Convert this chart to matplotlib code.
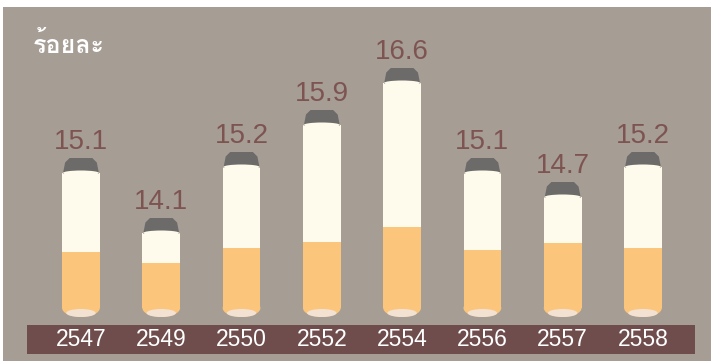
import matplotlib
matplotlib.use("Agg")
import matplotlib.pyplot as plt
from matplotlib.patches import Rectangle, Ellipse, Polygon
from matplotlib import font_manager as fm
from matplotlib.ft2font import FT2Font

# ---------------- data ----------------
years = ["2547", "2549", "2550", "2552", "2554", "2556", "2557", "2558"]
values = [15.1, 14.1, 15.2, 15.9, 16.6, 15.1, 14.7, 15.2]
value_labels = ["15.1", "14.1", "15.2", "15.9", "16.6", "15.1", "14.7", "15.2"]
filter_levels = [13.78, 13.60, 13.85, 13.95, 14.20, 13.82, 13.93, 13.85]
unit_label = "ร้อยละ"

# ---------------- fonts ----------------
names = {f.name for f in fm.fontManager.ttflist}
narrow = "Liberation Sans Narrow" if "Liberation Sans Narrow" in names else "Liberation Sans"

thai_font = None
for f in fm.fontManager.ttflist:
    try:
        cm = FT2Font(f.fname).get_charmap()
    except Exception:
        continue
    if 0x0E23 in cm and 0x0E49 in cm:
        thai_font = f.name
        break
thai_family = [thai_font, "DejaVu Sans"] if thai_font else ["DejaVu Sans"]

# ---------------- colours ----------------
BG = "#a69d95"
BAND = "#6f4d4c"
LABEL = "#7e5451"
CREAM = "#fefbec"
ORANGE = "#fcc57c"
TIP = "#f3e2d2"
CAP = "#6c6b69"

W, H = 713, 361
fig = plt.figure(figsize=(W / 100, H / 100), dpi=100, facecolor="white")
fig.patches.append(Rectangle((3 / W, 0), 708 / W, 354 / H, transform=fig.transFigure,
                             facecolor=BG, edgecolor="none", zorder=-5))

ax = fig.add_axes([27 / W, 6 / H, 668 / W, 348 / H])
ax.set_zorder(2)
ax.set_facecolor("none")
for s in ax.spines.values():
    s.set_visible(False)
ax.set_xticks([])
ax.set_yticks([])

BASE = 12.7          # value at the bottom of the cigarettes
PX = 1 / 60.0        # data units per pixel
ax.set_xlim(-0.672, 7.648)
ax.set_ylim(BASE - 38 * PX, BASE + 310 * PX)

bw = 0.47
for i, (v, fl) in enumerate(zip(values, filter_levels)):
    r = 9 * PX
    # cream body
    ax.add_patch(Rectangle((i - bw / 2, BASE + r), bw, v - BASE - r,
                           facecolor=CREAM, edgecolor="none", zorder=2))
    # orange filter
    ax.add_patch(Rectangle((i - bw / 2, BASE + r), bw, fl - BASE - r,
                           facecolor=ORANGE, edgecolor="none", zorder=3))
    # rounded filter end
    ax.add_patch(Ellipse((i, BASE + r), bw, 2 * r, facecolor=ORANGE,
                         edgecolor="none", zorder=3))
    ax.add_patch(Ellipse((i, BASE + 4 * PX), bw * 0.78, 8 * PX, facecolor=TIP,
                         edgecolor="none", zorder=4))
    # ash cap
    ch = 15 * PX
    cap = Polygon([(i - bw * 0.48, v - 1 * PX), (i + bw * 0.48, v - 1 * PX),
                   (i + bw * 0.42, v + ch * 0.7), (i + bw * 0.30, v + ch),
                   (i - bw * 0.30, v + ch), (i - bw * 0.42, v + ch * 0.7)],
                  closed=True, facecolor=CAP, edgecolor="none", zorder=4)
    ax.add_patch(cap)
    ax.add_patch(Ellipse((i, v), bw * 0.96, 5 * PX, facecolor=CREAM,
                         edgecolor="none", zorder=5))
    ax.text(i, v + 31 * PX, value_labels[i], ha="center", va="center",
            fontsize=20, color=LABEL, family=narrow, zorder=6)

# year band
ax.axhspan(BASE - 37 * PX, BASE - 8 * PX, xmin=0, xmax=1, facecolor=BAND,
           edgecolor="none", zorder=1)
for i, y in enumerate(years):
    ax.text(i, BASE - 23 * PX, y, ha="center", va="center", fontsize=16.5,
            color="white", family="Liberation Sans", zorder=6)

fig.text(33 / W, 1 - 45 / H, unit_label, ha="left", va="center", fontsize=18,
         fontweight="bold", color="white", family=thai_family)

fig.savefig("out.png", dpi=100, facecolor="white")
